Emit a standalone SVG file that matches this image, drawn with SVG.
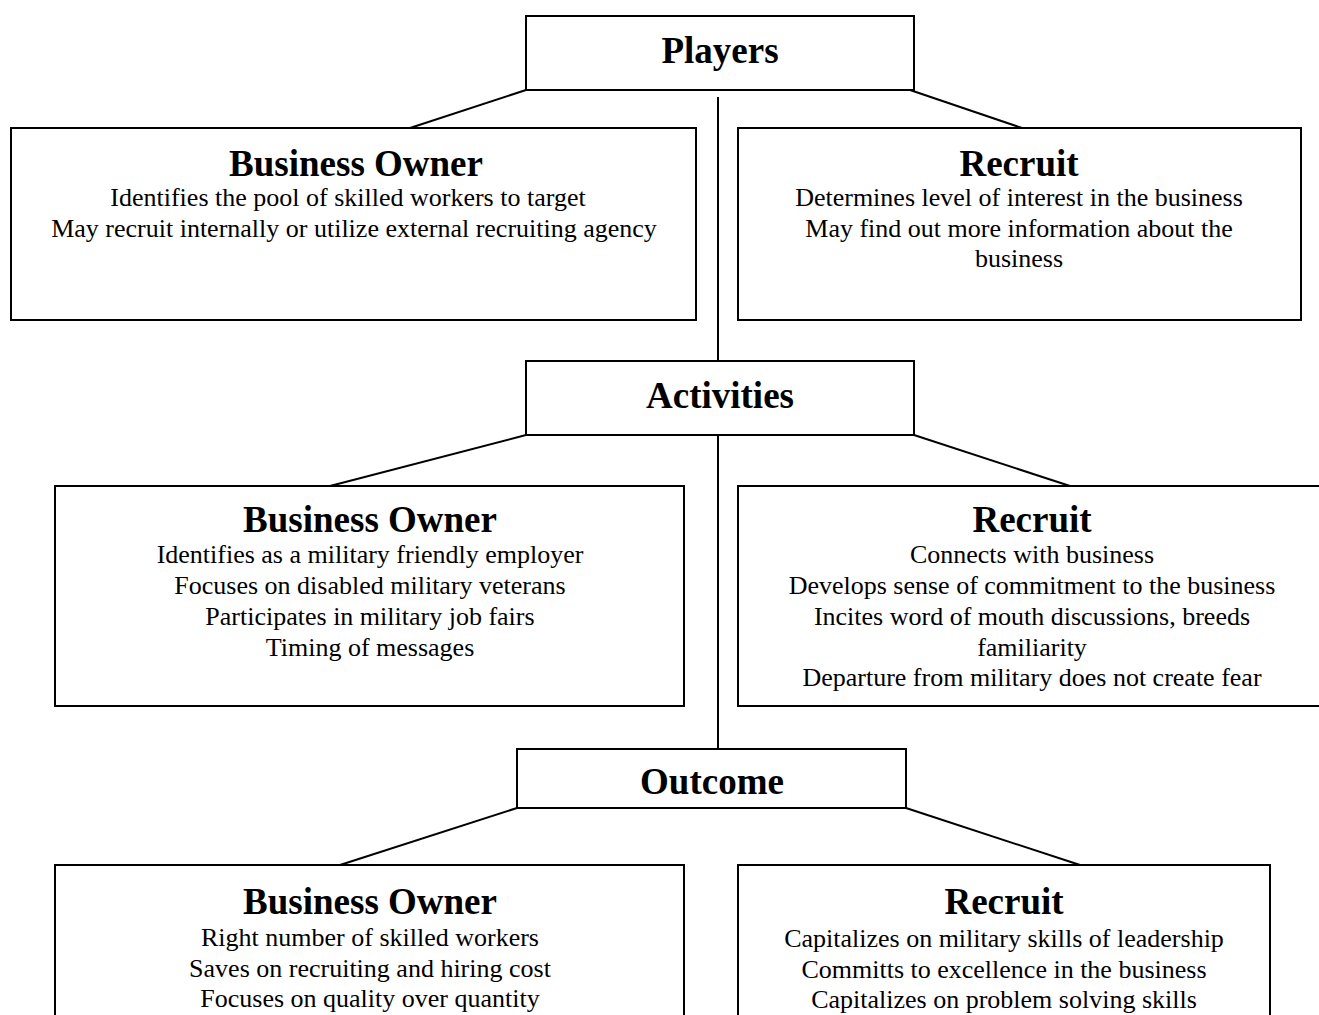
<svg xmlns="http://www.w3.org/2000/svg" width="1319" height="1015" viewBox="0 0 1319 1015">
<style>
rect{fill:#fff;stroke:#000;stroke-width:2}
line{stroke:#000;stroke-width:2}
text{font-family:"Liberation Serif","Times New Roman",serif;fill:#000;text-anchor:middle}
.h{font-size:37px;font-weight:bold}
.b{font-size:26px}
</style>
<rect x="0" y="0" width="1319" height="1015" style="stroke:none"/>
<g id="connectors">
<line x1="718" y1="97" x2="718" y2="361"/>
<line x1="718" y1="435" x2="718" y2="749"/>
<line x1="526" y1="90" x2="410" y2="128"/>
<line x1="910" y1="90" x2="1022" y2="128"/>
<line x1="526" y1="435" x2="330" y2="486"/>
<line x1="914" y1="435" x2="1070" y2="486"/>
<line x1="517" y1="808" x2="340" y2="865"/>
<line x1="906" y1="808" x2="1080" y2="865"/>
</g>
<g id="players">
<rect x="526" y="16" width="388" height="74"/>
<text class="h" x="720" y="63">Players</text>
</g>
<g id="bo1">
<rect x="11" y="128" width="685" height="192"/>
<text class="h" x="356" y="176">Business Owner</text>
<text class="b" x="348" y="206">Identifies the pool of skilled workers to target</text>
<text class="b" x="354" y="237">May recruit internally or utilize external recruiting agency</text>
</g>
<g id="recruit1">
<rect x="738" y="128" width="563" height="192"/>
<text class="h" x="1019" y="176">Recruit</text>
<text class="b" x="1019" y="206">Determines level of interest in the business</text>
<text class="b" x="1019" y="237">May find out more information about the</text>
<text class="b" x="1019" y="267">business</text>
</g>
<g id="activities">
<rect x="526" y="361" width="388" height="74"/>
<text class="h" x="720" y="408">Activities</text>
</g>
<g id="bo2">
<rect x="55" y="486" width="629" height="220"/>
<text class="h" x="370" y="532">Business Owner</text>
<text class="b" x="370" y="563">Identifies as a military friendly employer</text>
<text class="b" x="370" y="594">Focuses on disabled military veterans</text>
<text class="b" x="370" y="625">Participates in military job fairs</text>
<text class="b" x="370" y="656">Timing of messages</text>
</g>
<g id="recruit2">
<rect x="738" y="486" width="590" height="220"/>
<text class="h" x="1032" y="532">Recruit</text>
<text class="b" x="1032" y="563">Connects with business</text>
<text class="b" x="1032" y="594">Develops sense of commitment to the business</text>
<text class="b" x="1032" y="625">Incites word of mouth discussions, breeds</text>
<text class="b" x="1032" y="656">familiarity</text>
<text class="b" x="1032" y="686">Departure from military does not create fear</text>
</g>
<g id="outcome">
<rect x="517" y="749" width="389" height="59"/>
<text class="h" x="712" y="794">Outcome</text>
</g>
<g id="bo3">
<rect x="55" y="865" width="629" height="170"/>
<text class="h" x="370" y="914">Business Owner</text>
<text class="b" x="370" y="946">Right number of skilled workers</text>
<text class="b" x="370" y="977">Saves on recruiting and hiring cost</text>
<text class="b" x="370" y="1007">Focuses on quality over quantity</text>
</g>
<g id="recruit3">
<rect x="738" y="865" width="532" height="170"/>
<text class="h" x="1004" y="914">Recruit</text>
<text class="b" x="1004" y="947">Capitalizes on military skills of leadership</text>
<text class="b" x="1004" y="978">Committs to excellence in the business</text>
<text class="b" x="1004" y="1008">Capitalizes on problem solving skills</text>
</g>
</svg>
